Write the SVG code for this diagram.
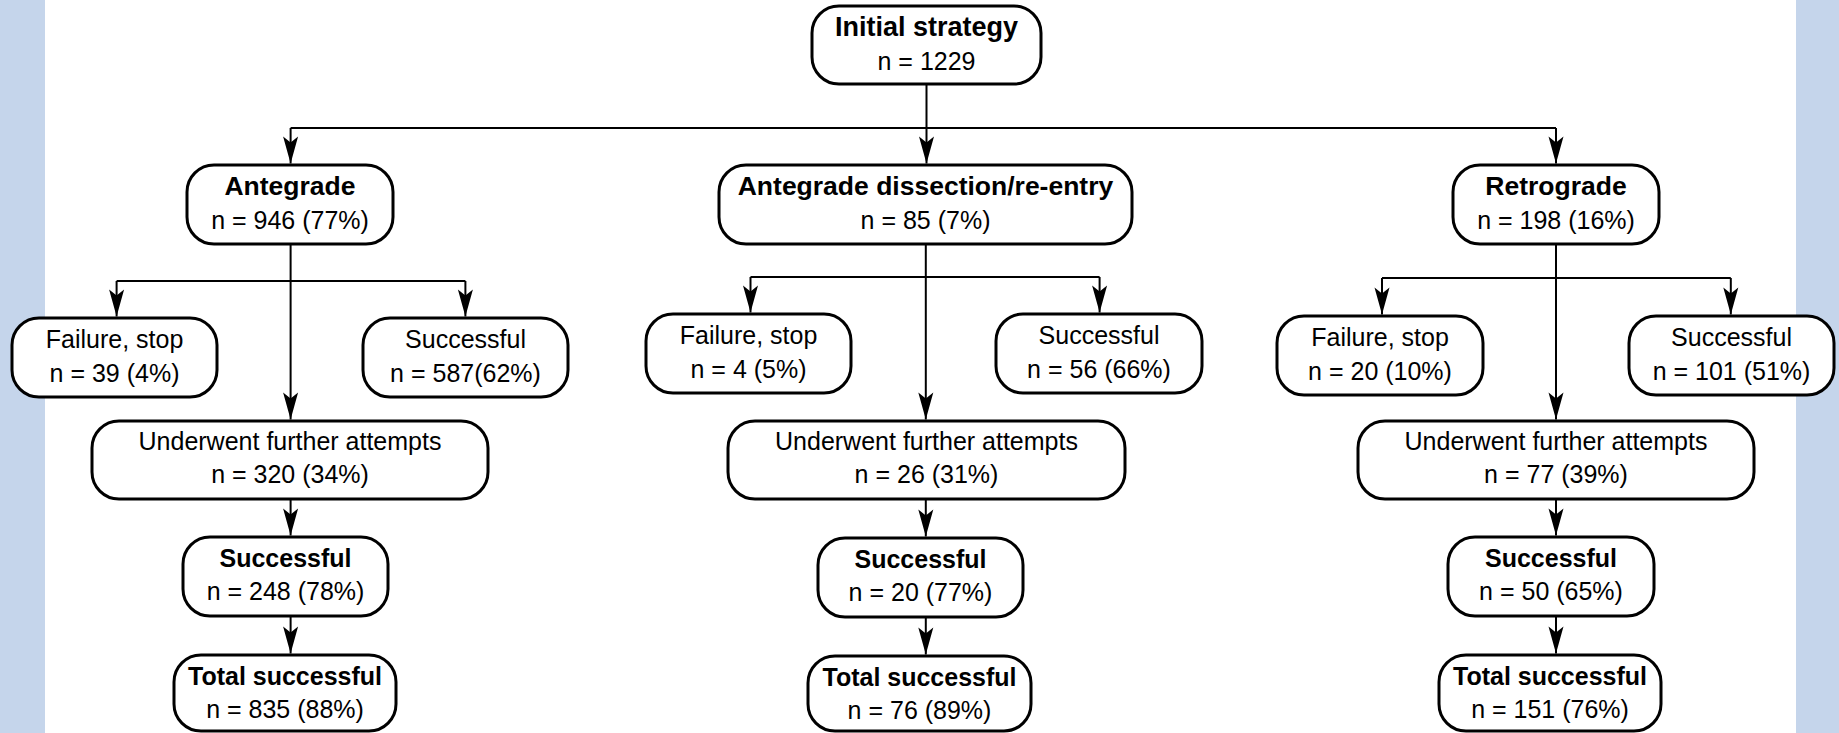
<svg xmlns="http://www.w3.org/2000/svg" width="1839" height="733" viewBox="0 0 1839 733">
<style>
.box{fill:#fff;stroke:#000;stroke-width:3}
.t{font-family:"Liberation Sans",Arial,sans-serif;font-size:25px;text-anchor:middle;fill:#000}
.b{font-weight:bold}
.h{font-size:26.5px}
.c{fill:none;stroke:#000;stroke-width:2}
.a{marker-end:url(#ah)}
</style>
<defs>
<marker id="ah" markerUnits="userSpaceOnUse" viewBox="-28 -8 30 16" refX="0" refY="0" markerWidth="30" markerHeight="16" orient="auto">
<path d="M0,0 L-27,-7.5 L-21,0 L-27,7.5 Z" fill="#000"/>
</marker>
</defs>
<rect x="0" y="0" width="1839" height="733" fill="#fff"/>
<rect x="0" y="0" width="45" height="733" fill="#c5d5eb"/>
<rect x="1796" y="0" width="43" height="733" fill="#c5d5eb"/>

<g id="connectors">
<path class="c" d="M926.5,84 V128 M290.6,128 H1556"/>
<path class="c a" d="M290.6,128 V163.5"/>
<path class="c a" d="M926.5,128 V163.5"/>
<path class="c a" d="M1556,128 V163.5"/>

<path class="c" d="M116.6,281 H465.4"/>
<path class="c a" d="M116.6,281 V316.5"/>
<path class="c a" d="M465.4,281 V316.5"/>
<path class="c a" d="M290.6,244 V419.5"/>
<path class="c a" d="M290.6,499 V535.5"/>
<path class="c a" d="M290.6,616 V653.5"/>

<path class="c" d="M750.5,277 H1099.6"/>
<path class="c a" d="M750.5,277 V312.5"/>
<path class="c a" d="M1099.6,277 V312.5"/>
<path class="c a" d="M925.8,244 V419.5"/>
<path class="c a" d="M925.8,499 V536.5"/>
<path class="c a" d="M925.8,617 V654.5"/>

<path class="c" d="M1382,278 H1730.8"/>
<path class="c a" d="M1382,278 V314.5"/>
<path class="c a" d="M1730.8,278 V314.5"/>
<path class="c a" d="M1556,244 V419.5"/>
<path class="c a" d="M1556,499 V535.5"/>
<path class="c a" d="M1556,616 V653.5"/>
</g>

<g id="n-initial">
<rect class="box" x="812" y="6" width="229" height="78" rx="27"/>
<text class="t b" x="926.5" y="36" style="font-size:27px">Initial strategy</text>
<text class="t" x="926.5" y="70">n = 1229</text>
</g>

<g id="n-antegrade">
<rect class="box" x="187" y="165" width="206" height="79" rx="27"/>
<text class="t b h" x="290" y="195">Antegrade</text>
<text class="t" x="290" y="229">n = 946 (77%)</text>
</g>
<g id="n-adr">
<rect class="box" x="719" y="165" width="413" height="79" rx="27"/>
<text class="t b h" x="925.5" y="195">Antegrade dissection/re-entry</text>
<text class="t" x="925.5" y="229">n = 85 (7%)</text>
</g>
<g id="n-retrograde">
<rect class="box" x="1453" y="165" width="206" height="79" rx="27"/>
<text class="t b h" x="1556" y="195">Retrograde</text>
<text class="t" x="1556" y="229">n = 198 (16%)</text>
</g>

<g id="n-l-fail">
<rect class="box" x="12" y="318" width="205" height="79" rx="27"/>
<text class="t" x="114.5" y="348">Failure, stop</text>
<text class="t" x="114.5" y="382">n = 39 (4%)</text>
</g>
<g id="n-l-succ">
<rect class="box" x="363" y="318" width="205" height="79" rx="27"/>
<text class="t" x="465.5" y="348">Successful</text>
<text class="t" x="465.5" y="382">n = 587(62%)</text>
</g>
<g id="n-l-under">
<rect class="box" x="92" y="421" width="396" height="78" rx="27"/>
<text class="t" x="290" y="450">Underwent further attempts</text>
<text class="t" x="290" y="483">n = 320 (34%)</text>
</g>
<g id="n-l-succ2">
<rect class="box" x="183" y="537" width="205" height="79" rx="27"/>
<text class="t b" x="285.5" y="567">Successful</text>
<text class="t" x="285.5" y="600">n = 248 (78%)</text>
</g>
<g id="n-l-total">
<rect class="box" x="174" y="655" width="222" height="76" rx="27"/>
<text class="t b" x="285" y="685">Total successful</text>
<text class="t" x="285" y="718">n = 835 (88%)</text>
</g>

<g id="n-m-fail">
<rect class="box" x="646" y="314" width="205" height="79" rx="27"/>
<text class="t" x="748.5" y="344">Failure, stop</text>
<text class="t" x="748.5" y="378">n = 4 (5%)</text>
</g>
<g id="n-m-succ">
<rect class="box" x="996" y="314" width="206" height="79" rx="27"/>
<text class="t" x="1099" y="344">Successful</text>
<text class="t" x="1099" y="378">n = 56 (66%)</text>
</g>
<g id="n-m-under">
<rect class="box" x="728" y="421" width="397" height="78" rx="27"/>
<text class="t" x="926.5" y="450">Underwent further attempts</text>
<text class="t" x="926.5" y="483">n = 26 (31%)</text>
</g>
<g id="n-m-succ2">
<rect class="box" x="818" y="538" width="205" height="79" rx="27"/>
<text class="t b" x="920.5" y="568">Successful</text>
<text class="t" x="920.5" y="601">n = 20 (77%)</text>
</g>
<g id="n-m-total">
<rect class="box" x="808" y="656" width="223" height="75" rx="27"/>
<text class="t b" x="919.5" y="686">Total successful</text>
<text class="t" x="919.5" y="719">n = 76 (89%)</text>
</g>

<g id="n-r-fail">
<rect class="box" x="1277" y="316" width="206" height="79" rx="27"/>
<text class="t" x="1380" y="346">Failure, stop</text>
<text class="t" x="1380" y="380">n = 20 (10%)</text>
</g>
<g id="n-r-succ">
<rect class="box" x="1629" y="316" width="205" height="79" rx="27"/>
<text class="t" x="1731.5" y="346">Successful</text>
<text class="t" x="1731.5" y="380">n = 101 (51%)</text>
</g>
<g id="n-r-under">
<rect class="box" x="1358" y="421" width="396" height="78" rx="27"/>
<text class="t" x="1556" y="450">Underwent further attempts</text>
<text class="t" x="1556" y="483">n = 77 (39%)</text>
</g>
<g id="n-r-succ2">
<rect class="box" x="1448" y="537" width="206" height="79" rx="27"/>
<text class="t b" x="1551" y="567">Successful</text>
<text class="t" x="1551" y="600">n = 50 (65%)</text>
</g>
<g id="n-r-total">
<rect class="box" x="1439" y="655" width="222" height="76" rx="27"/>
<text class="t b" x="1550" y="685">Total successful</text>
<text class="t" x="1550" y="718">n = 151 (76%)</text>
</g>
</svg>
